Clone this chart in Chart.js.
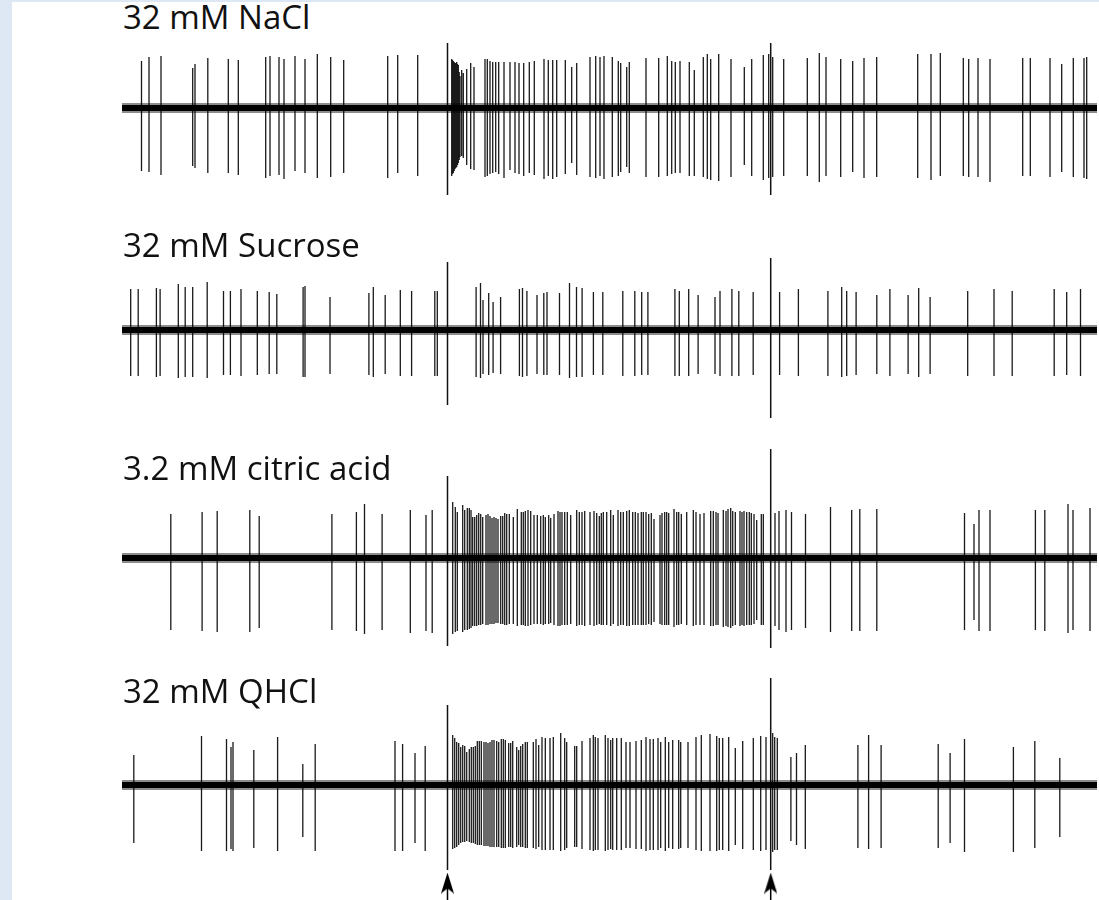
<!DOCTYPE html>
<html>
<head>
<meta charset="utf-8">
<title>Taste responses</title>
<script src="https://cdn.jsdelivr.net/npm/chart.js@4.4.1/dist/chart.umd.min.js"></script>
<style>
  html,body{margin:0;padding:0;}
  body{width:1099px;height:900px;background:#dde8f4;position:relative;overflow:hidden;font-family:"Open Sans",sans-serif;}
  #panel{position:absolute;left:12px;top:2px;right:0;bottom:0;background:#fff;}
  .lbl{position:absolute;left:123px;font-size:33px;line-height:33px;color:#111;white-space:nowrap;}
  canvas{position:absolute;left:0;}
</style>
</head>
<body>
<div id="panel"></div>
<script>
/* Single-unit spike traces, four tastants. Stimulus on/off marked by arrows */
const T_END = 9.75;              // s, sweep length
const STIM = [3.255, 6.487];     // s, stimulus on / off

const LABELS = ['32 mM NaCl', '32 mM Sucrose', '3.2 mM citric acid', '32 mM QHCl'];

// --- 32 mM NaCl (times s, peak / trough in µV)
const naclTimes = [0.195,0.27,0.39,0.707,0.73,0.858,1.063,1.163,1.437,1.48,1.57,1.62,1.73,1.83,1.953,2.087,2.217,2.657,2.757,2.957,
  3.297,3.305,3.313,3.322,3.33,3.338,3.347,3.355,3.363,3.372,3.38,3.397,3.413,3.447,3.487,3.52,
  3.63,3.653,3.68,3.707,3.737,3.767,3.82,3.88,3.93,3.97,4.017,4.073,4.123,4.22,4.263,4.307,4.347,4.433,4.497,4.547,
  4.68,4.737,4.78,4.82,4.903,4.963,4.987,5.047,5.073,5.24,5.367,5.453,5.497,5.533,5.58,5.673,5.723,5.813,5.853,5.887,
  5.967,6.09,6.223,6.297,6.413,6.467,6.507,6.617,6.853,6.973,7.04,7.187,7.307,7.42,7.547,7.957,8.09,8.183,8.413,8.467,
  8.56,8.68,9.007,9.083,9.28,9.397,9.513,9.62,9.647];
const naclPeaks = [47,51,52,40,44,50,49,48,51,52,51,49,52,49,54,51,48,52,53,53,
  49,48,47,46,45,45,46,44,43,36,32,38,35,39,45,41,
  49,49,47,46,46,46,46,46,46,45,45,46,47,49,48,48,48,48,41,45,
  51,52,51,52,51,47,45,41,46,50,50,52,47,46,47,46,38,51,54,49,
  54,49,41,49,53,54,51,49,50,55,51,49,47,50,51,54,54,55,50,49,
  50,49,50,50,50,44,50,50,51];
const naclTroughs = [63,64,67,58,60,65,65,67,70,68,67,71,63,65,70,69,65,70,65,68,
  68,66,65,63,61,60,59,57,55,52,49,48,50,57,61,62,
  69,68,66,65,64,66,70,62,65,66,68,65,67,71,68,71,69,66,55,67,
  69,70,68,71,69,68,64,59,65,69,69,68,66,65,65,68,68,69,71,72,
  73,69,57,68,72,70,69,68,68,74,68,69,64,70,69,70,72,68,68,69,
  69,74,68,68,69,64,69,70,71];
const naclArtUp = [65, 65];
const naclArtDown = [87, 87];

// --- 32 mM Sucrose
const sucTimes = [0.087,0.162,0.344,0.381,0.563,0.632,0.707,0.852,1.015,1.084,
  1.19,1.353,1.472,1.548,1.811,1.83,2.08,2.469,2.513,2.632,
  2.783,2.896,3.128,3.153,3.541,3.585,3.61,3.667,3.711,3.786,
  3.974,4.005,4.049,4.15,4.218,4.25,4.375,4.475,4.545,4.601,
  4.714,4.808,5.008,5.128,5.197,5.259,5.529,5.573,5.667,5.761,
  5.93,5.98,6.099,6.168,6.312,6.576,6.764,7.059,7.197,7.247,
  7.341,7.548,7.679,7.861,7.967,8.081,8.457,8.72,8.902,9.322,
  9.447,9.585];
const sucPeaks = [41,41,42,41,46,43,43,48,39,39,
  41,39,38,36,43,44,33,37,43,35,
  40,39,39,39,43,47,30,37,28,33,
  41,42,39,35,37,38,37,47,43,42,
  38,38,39,39,38,38,41,39,41,35,
  33,39,41,39,38,38,41,39,43,39,
  38,35,41,35,42,33,39,41,39,41,
  38,41];
const sucTroughs = [46,46,47,46,48,47,47,48,45,45,
  46,45,44,44,47,47,44,45,47,44,
  46,46,46,46,47,48,44,45,43,44,
  46,47,46,44,45,45,45,48,47,47,
  45,45,46,46,45,45,46,46,46,44,
  44,46,46,46,45,45,46,46,47,46,
  45,44,46,44,47,44,46,46,46,46,
  45,46];
const sucArtUp = [68, 72];
const sucArtDown = [75, 88];

// --- 3.2 mM citric acid
const citTimes = [0.488,0.801,0.952,1.278,1.372,2.099,2.344,2.425,2.601,2.883,3.04,3.102,
  3.307,3.333,3.353,3.407,3.427,3.453,3.473,3.49,3.507,3.527,
  3.547,3.567,3.587,3.607,3.64,3.66,3.68,3.70,3.72,3.74,
  3.76,3.787,3.807,3.827,3.847,3.873,3.913,3.953,3.993,4.013,
  4.033,4.06,4.087,4.12,4.153,4.187,4.213,4.233,4.267,4.287,
  4.32,4.36,4.38,4.40,4.427,4.453,4.487,4.547,4.573,4.60,
  4.627,4.68,4.72,4.747,4.773,4.793,4.813,4.847,4.887,4.913,
  4.96,4.987,5.013,5.047,5.073,5.107,5.133,5.16,5.193,5.213,
  5.24,5.267,5.293,5.32,5.38,5.40,5.427,5.447,5.467,5.52,
  5.547,5.567,5.593,5.647,5.713,5.74,5.78,5.82,5.887,5.913,
  5.94,5.96,6.013,6.04,6.06,6.087,6.107,6.133,6.18,6.20,
  6.22,6.247,6.273,6.293,6.32,6.347,6.393,6.413,
  6.53,6.57,6.64,6.695,6.835,7.085,7.297,7.378,7.548,8.425,8.52,8.57,8.68,9.134,9.228,9.46,9.51,9.68];
const citPeaks = [44,46,47,48,42,44,46,54,44,48,43,48,
  56,51,46,53,48,50,50,48,41,41,
  43,45,44,41,43,44,42,40,41,40,
  39,42,42,45,44,44,41,49,46,46,
  47,48,47,43,43,42,43,41,43,40,
  44,47,46,46,46,46,43,48,46,46,
  47,46,47,45,42,45,46,46,48,43,
  48,46,46,47,48,46,46,45,46,46,
  46,44,45,39,43,45,46,46,45,49,
  46,46,44,46,48,46,44,45,47,47,
  46,45,48,47,49,50,47,46,47,46,
  47,46,46,45,44,38,44,44,
  45,47,48,46,44,51,48,49,49,45,34,48,48,48,48,54,48,50];
const citTroughs = [72,73,74,74,70,72,73,76,72,75,73,75,
  76,74,73,74,72,72,71,70,68,68,
  68,67,67,66,67,67,66,66,66,65,
  65,66,66,67,67,66,66,68,67,67,
  68,68,67,66,66,66,67,66,66,65,
  67,68,68,67,67,67,66,68,67,67,
  68,67,68,67,66,67,67,67,68,66,
  68,67,67,68,68,67,67,67,67,67,
  67,66,67,64,66,67,67,67,67,69,
  67,67,66,67,68,67,67,67,68,68,
  67,67,69,68,69,70,68,67,68,67,
  68,67,67,67,66,62,67,67,
  68,72,74,72,70,74,73,73,73,72,62,73,73,72,73,75,72,73];
const citArtUp = [82, 109];
const citArtDown = [88, 90];

// --- 32 mM QHCl
const qhTimes = [0.118,0.795,1.045,1.09,1.11,1.318,1.556,1.808,1.932,2.73,2.806,2.93,3.032,
  3.307,3.327,3.347,3.367,3.387,3.407,3.427,3.447,3.473,3.493,
  3.513,3.533,3.553,3.573,3.593,3.62,3.64,3.66,3.68,3.70,
  3.72,3.747,3.767,3.793,3.813,3.833,3.867,3.887,3.907,3.947,
  3.967,3.987,4.007,4.033,4.053,4.113,4.14,4.167,4.20,4.233,
  4.28,4.313,4.387,4.427,4.447,4.527,4.547,4.60,4.68,4.713,
  4.733,4.76,4.833,4.86,4.887,4.907,4.947,4.993,5.04,5.08,
  5.14,5.193,5.24,5.28,5.313,5.36,5.387,5.433,5.467,5.507,
  5.567,5.587,5.66,5.74,5.793,5.88,5.947,5.973,6.007,6.067,
  6.133,6.207,6.313,6.387,6.44,6.507,6.527,6.553,
  6.689,6.745,6.833,7.359,7.466,7.591,8.162,8.281,8.425,8.914,9.128,9.378];
const qhPeaks = [30,49,46,38,43,35,48,21,41,44,41,32,39,
  50,47,43,42,38,40,39,33,36,38,
  38,39,44,44,44,43,43,42,43,45,
  45,44,43,46,46,45,42,42,44,38,
  35,39,41,43,43,43,46,40,48,47,
  47,48,52,47,43,39,39,44,47,50,
  48,47,50,47,45,47,47,47,43,43,
  44,45,48,46,46,47,43,48,43,45,
  45,43,43,48,50,51,49,47,47,48,
  37,44,47,49,48,52,48,47,
  28,32,40,40,50,40,41,32,46,38,44,27];
const qhTroughs = [58,66,66,64,66,63,66,52,66,66,66,58,66,
  64,63,62,60,58,57,57,56,57,58,
  58,59,60,60,60,61,61,61,62,62,
  62,62,62,63,63,63,62,62,63,62,
  60,62,62,63,63,63,64,62,65,65,
  65,65,66,65,63,62,62,64,65,66,
  65,65,66,65,64,65,65,65,63,63,
  64,64,66,65,65,65,63,66,63,64,
  64,63,63,65,66,66,66,65,65,66,
  60,64,65,66,65,67,65,65,
  56,60,64,63,64,63,63,58,67,67,63,52];
const qhArtUp = [80, 107];
const qhArtDown = [85, 85];

// layout (px)
const TRACE_Y = [108, 330, 558, 785];   // baseline of each sweep
const LABEL_TOP = [0, 228, 451, 674];
const HALF = 120;                       // half height of each sweep canvas = ±120 µV
const ARROW = { shaftTop: -100, shaftBottom: -125, head: -98 };

document.addEventListener('DOMContentLoaded', () => {
  const traces = [
    { times: naclTimes, up: naclPeaks, down: naclTroughs, artUp: naclArtUp, artDown: naclArtDown },
    { times: sucTimes,  up: sucPeaks,  down: sucTroughs,  artUp: sucArtUp,  artDown: sucArtDown },
    { times: citTimes,  up: citPeaks,  down: citTroughs,  artUp: citArtUp,  artDown: citArtDown },
    { times: qhTimes,   up: qhPeaks,   down: qhTroughs,   artUp: qhArtUp,   artDown: qhArtDown }
  ];
  traces.forEach((tr, i) => { addLabel(i); makeTrace(i, tr, i === traces.length - 1); });
});

function addLabel(i){
  const d = document.createElement('div');
  d.className = 'lbl';
  d.style.top = LABEL_TOP[i] + 'px';
  d.textContent = LABELS[i];
  document.body.appendChild(d);
}

// each spike = vertical stroke from +peak to -trough, null breaks the line
function spikePoints(times, up, down){
  const pts = [];
  times.forEach((t, i) => { pts.push({ x: t, y: up[i] }, { x: t, y: -down[i] }, { x: t, y: null }); });
  return pts;
}

function arrowHead(){
  const c = document.createElement('canvas');
  c.width = 13; c.height = 21;
  const g = c.getContext('2d');
  g.fillStyle = '#000';
  g.beginPath(); g.moveTo(6.5, 0); g.lineTo(13, 21); g.lineTo(6.5, 16); g.lineTo(0, 21); g.closePath(); g.fill();
  return c;
}

function makeTrace(i, tr, withArrows){
  const cv = document.createElement('canvas');
  cv.width = 1099; cv.height = HALF * 2;
  cv.style.top = (TRACE_Y[i] - HALF) + 'px';
  document.body.appendChild(cv);

  const datasets = [
    // noise band of the baseline
    { data: [{ x: 0, y: 0 }, { x: T_END, y: 0 }], borderColor: '#000', borderWidth: 6 },
    { data: [{ x: 0, y: 0 }, { x: T_END, y: 0 }], borderColor: 'rgba(0,0,0,0.45)', borderWidth: 10 },
    { data: spikePoints(tr.times, tr.up, tr.down), borderColor: '#1a1a1a', borderWidth: 1.3 },
    { data: spikePoints(STIM, tr.artUp, tr.artDown), borderColor: '#111', borderWidth: 1.5 }
  ];
  if (withArrows){
    datasets.push({ data: STIM.flatMap(t => [{ x: t, y: ARROW.shaftTop }, { x: t, y: ARROW.shaftBottom }, { x: t, y: null }]),
      borderColor: '#000', borderWidth: 1.5 });
    datasets.push({ data: STIM.map(t => ({ x: t, y: ARROW.head })), showLine: false, pointStyle: arrowHead(), pointRadius: 10 });
  }

  new Chart(cv, {
    type: 'line',
    data: { datasets },
    options: {
      responsive: false, animation: false, devicePixelRatio: 1, events: [],
      layout: { autoPadding: false, padding: { left: 122, right: 2, top: 0, bottom: 0 } },
      plugins: { legend: { display: false }, tooltip: { enabled: false } },
      elements: { point: { radius: 0 }, line: { tension: 0, borderCapStyle: 'butt' } },
      datasets: { line: { clip: false, spanGaps: false } },
      scales: {
        x: { type: 'linear', min: 0, max: T_END, display: false },
        y: { min: -HALF, max: HALF, display: false }
      }
    }
  });
}
</script>
</body>
</html>
